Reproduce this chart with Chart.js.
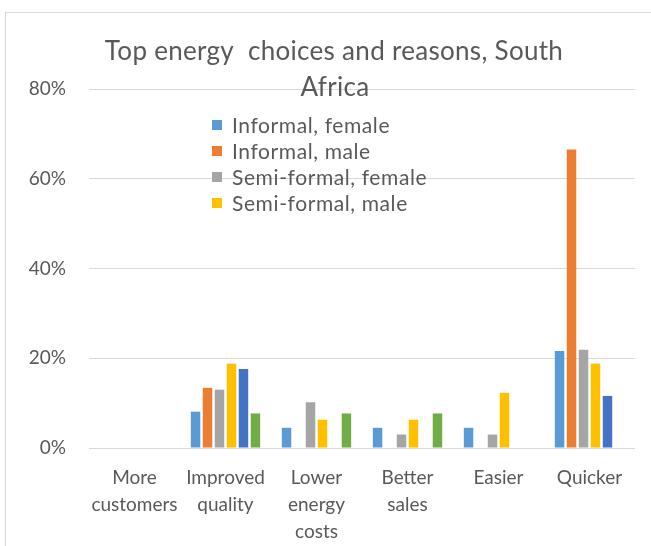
<!DOCTYPE html>
<html>
<head>
<meta charset="utf-8">
<script src="https://cdn.jsdelivr.net/npm/chart.js@4/dist/chart.umd.min.js"></script>
<style>
  html, body { margin: 0; padding: 0; background: #fff; }
  #wrap { width: 651px; height: 546px; }
</style>
</head>
<body>
<div id="wrap"><canvas id="chart" width="651" height="546"></canvas></div>
<script>
const categories = [["More", "customers"], ["Improved", "quality"], ["Lower", "energy", "costs"], ["Better", "sales"], "Easier", "Quicker"];
const informalFemale = [0, 8.1, 4.5, 4.5, 4.5, 21.6];
const informalMale = [0, 13.4, 0, 0, 0, 66.5];
const semiFormalFemale = [0, 13.0, 10.2, 3.0, 3.0, 21.9];
const semiFormalMale = [0, 18.8, 6.3, 6.3, 12.3, 18.8];
const series5 = [0, 17.6, 0, 0, 0, 11.6];
const series6 = [0, 7.7, 7.7, 7.7, 0, 0];
const yTicks = [0, 20, 40, 60, 80];
const titleLines = ["Top energy  choices and reasons, South", "Africa"];

const FONT = "Lato";
const TEXT = "#595959";
const GRID = "#d9d9d9";

// title, legend and outer frame are drawn by hand: Excel overlaps them on the plot
const decor = {
  id: "decor",
  beforeDraw(chart) {
    const ctx = chart.ctx;
    ctx.save();
    ctx.strokeStyle = GRID;
    ctx.lineWidth = 1;
    ctx.strokeRect(5.5, 12.5, 700, 600);
    ctx.restore();
  },
  afterDraw(chart) {
    const ctx = chart.ctx;
    ctx.save();
    ctx.fillStyle = TEXT;
    ctx.textAlign = "center";
    ctx.textBaseline = "middle";
    ctx.font = `26px ${FONT}`;
    ctx.letterSpacing = "0.3px";
    ctx.fillText(titleLines[0], 334, 52);
    ctx.fillText(titleLines[1], 335, 88);

    ctx.textAlign = "left";
    ctx.font = `21px ${FONT}`;
    ctx.letterSpacing = "0.6px";
    const rows = [125, 151, 177, 203];
    chart.data.datasets.slice(0, 4).forEach((ds, i) => {
      ctx.fillStyle = ds.backgroundColor;
      ctx.fillRect(212, rows[i] - 5, 10, 10);
      ctx.fillStyle = TEXT;
      ctx.fillText(ds.label, 232, rows[i] + 1);
    });
    ctx.restore();
  }
};

const mk = (label, data, color) => ({
  label, data, backgroundColor: color, borderWidth: 0,
  categoryPercentage: 0.79, barPercentage: 0.79
});

new Chart(document.getElementById("chart"), {
  type: "bar",
  plugins: [decor],
  data: {
    labels: categories,
    datasets: [
      mk("Informal, female", informalFemale, "#5b9bd5"),
      mk("Informal, male", informalMale, "#ed7d31"),
      mk("Semi-formal, female", semiFormalFemale, "#a5a5a5"),
      mk("Semi-formal, male", semiFormalMale, "#ffc000"),
      mk("Series 5", series5, "#4472c4"),
      mk("Series 6", series6, "#70ad47")
    ]
  },
  options: {
    responsive: false,
    animation: false,
    layout: { padding: { top: 89, right: 16, left: 0, bottom: 0 } },
    plugins: {
      legend: { display: false },
      title: { display: false },
      tooltip: { enabled: false }
    },
    scales: {
      x: {
        grid: { display: false, drawTicks: false },
        border: { display: false },
        ticks: {
          color: TEXT, padding: 16, maxRotation: 0, autoSkip: false,
          font: { family: FONT, size: 19, lineHeight: 1.42 }
        },
        afterFit: s => { s.height = 98; }
      },
      y: {
        min: 0, max: 80,
        afterBuildTicks: s => { s.ticks = yTicks.map(v => ({ value: v })); },
        grid: { color: GRID, drawTicks: false },
        border: { display: false },
        ticks: {
          color: TEXT, padding: 23,
          font: { family: FONT, size: 19 },
          callback: v => v + "%"
        },
        afterFit: s => { s.width = 89; }
      }
    }
  }
});
</script>
</body>
</html>
